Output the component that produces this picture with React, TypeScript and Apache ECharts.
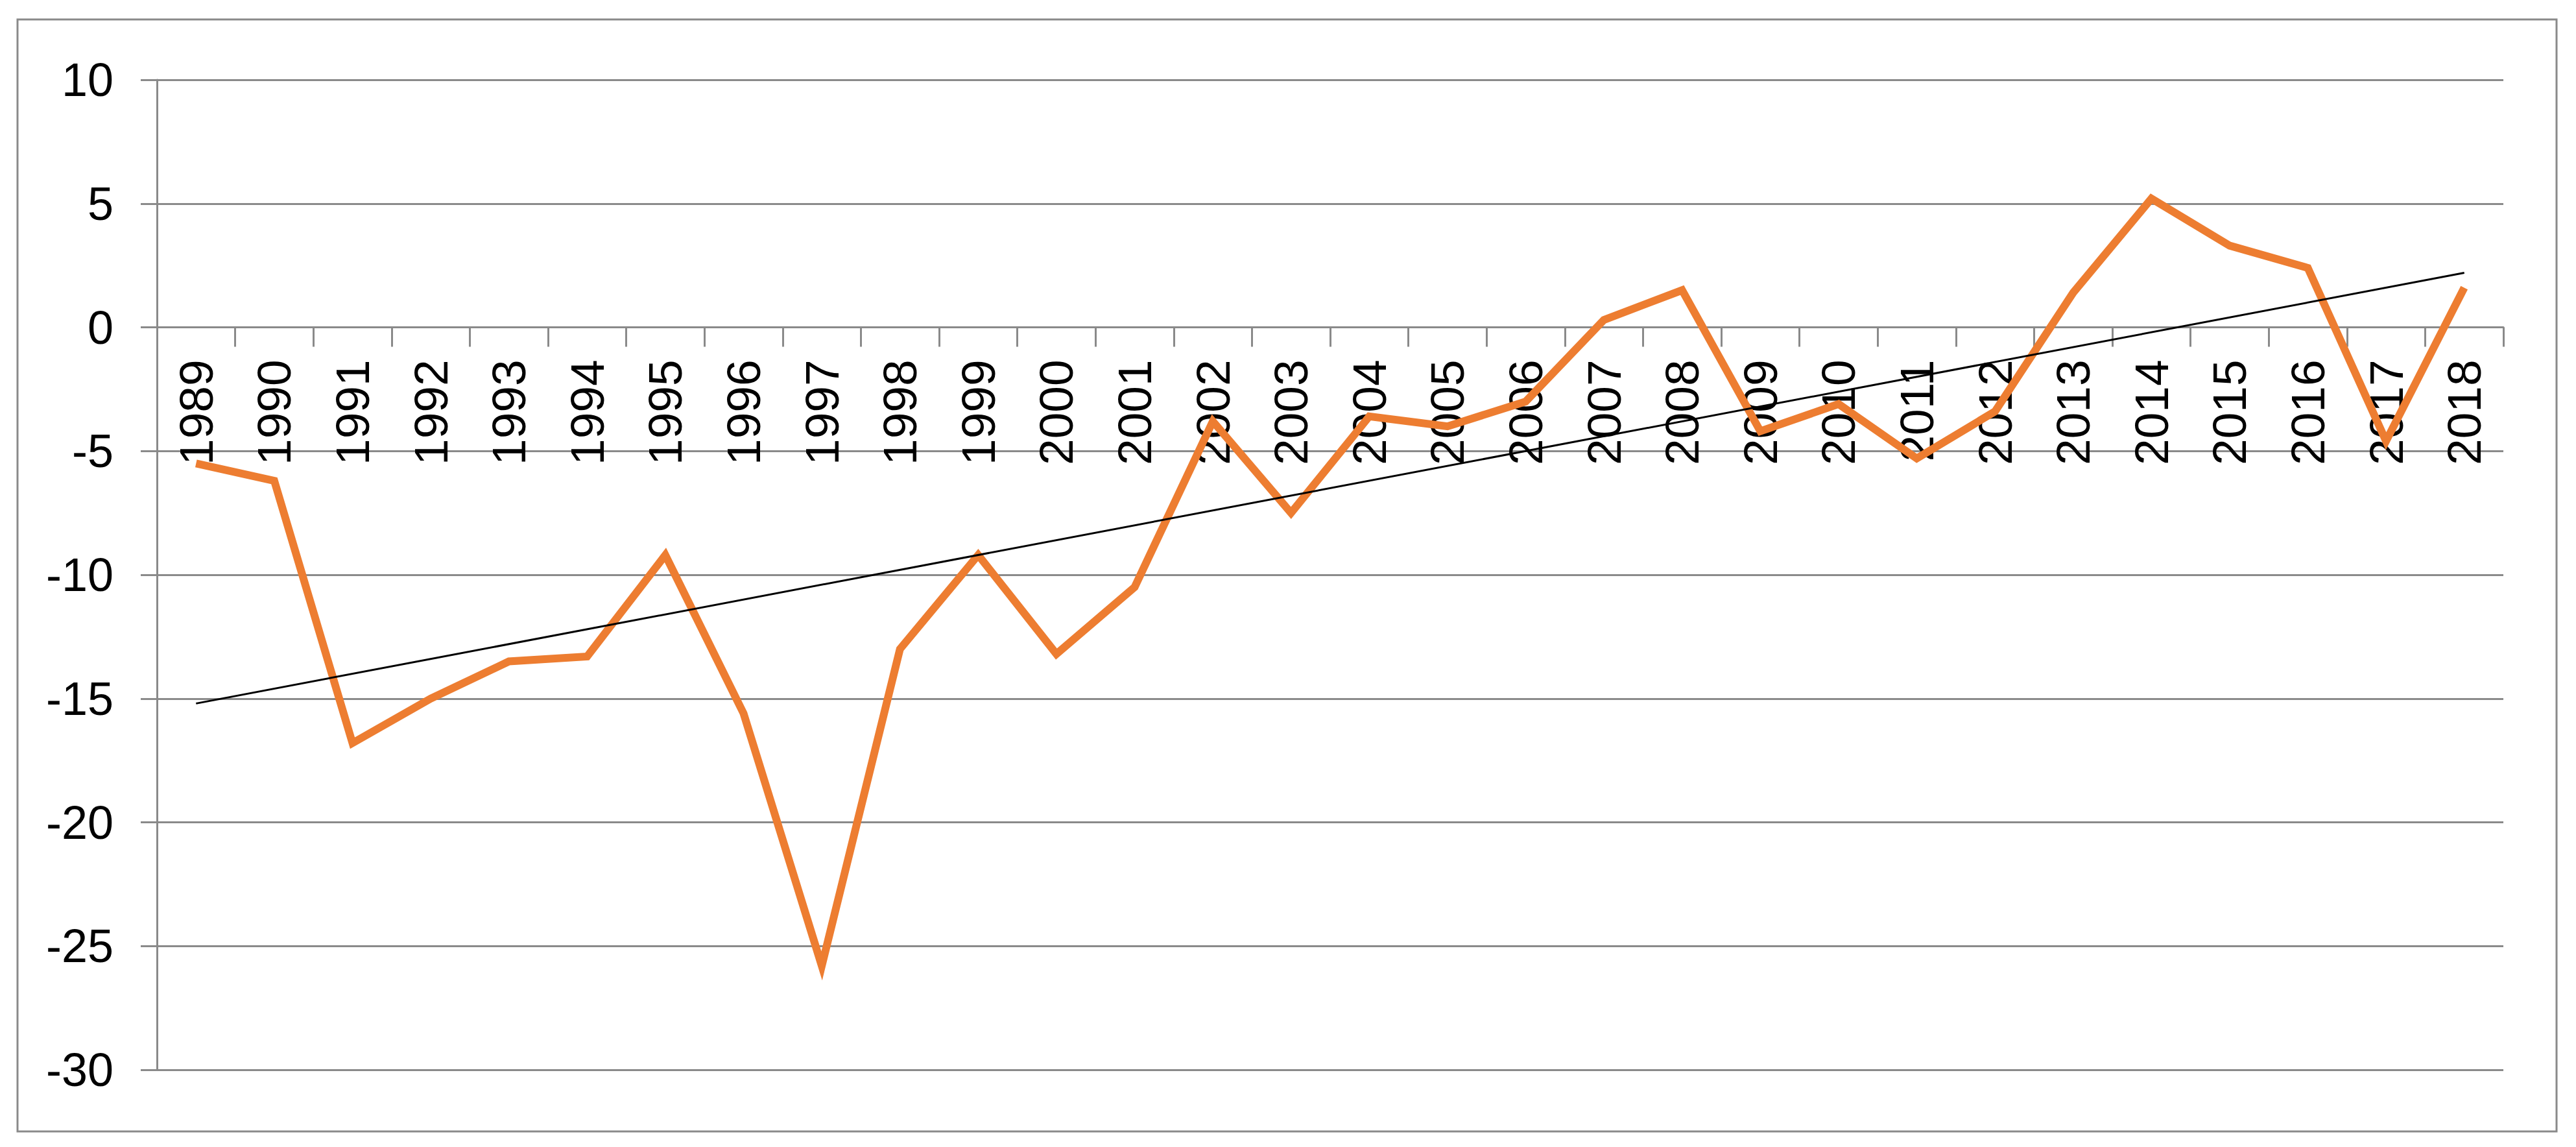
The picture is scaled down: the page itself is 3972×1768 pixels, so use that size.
import React, { useEffect, useRef } from "react";
import * as echarts from "echarts";

const years = [
  "1989", "1990", "1991", "1992", "1993", "1994", "1995", "1996", "1997", "1998",
  "1999", "2000", "2001", "2002", "2003", "2004", "2005", "2006", "2007", "2008",
  "2009", "2010", "2011", "2012", "2013", "2014", "2015", "2016", "2017", "2018",
];

const values = [
  -5.5, -6.2, -16.8, -15.0, -13.5, -13.3, -9.2, -15.6, -25.8, -13.0,
  -9.2, -13.2, -10.5, -3.8, -7.5, -3.6, -4.0, -3.0, 0.3, 1.5,
  -4.2, -3.1, -5.3, -3.4, 1.4, 5.2, 3.3, 2.4, -4.6, 1.6,
];

// trend line endpoints
const trendYears = ["1989", "2018"];
const trendValues = [-15.2, 2.2];

const yMin = -30;
const yMax = 10;
const yStep = 5;

const W = 3972;
const H = 1768;
const GRID_TOP = 123;
const GRID_BOTTOM = 119;

export default function App() {
  const ref = useRef<HTMLDivElement>(null);

  useEffect(() => {
    if (!ref.current) return;
    const chart = echarts.init(ref.current, null, { renderer: "svg" });
    const gray = "#8a8a8a";
    const gridH = H - GRID_TOP - GRID_BOTTOM;
    const zeroFromBottom = gridH * ((0 - yMin) / (yMax - yMin));
    chart.setOption({
      animation: false,
      backgroundColor: "#ffffff",
      grid: {
        left: 242,
        right: 112,
        top: GRID_TOP,
        bottom: GRID_BOTTOM,
        containLabel: false,
        outerBoundsMode: "none",
      },
      xAxis: {
        type: "category",
        data: years,
        boundaryGap: true,
        position: "bottom",
        offset: -zeroFromBottom,
        axisLine: { show: true, onZero: false, lineStyle: { color: gray, width: 3 } },
        axisTick: { show: true, interval: 0, length: 30, lineStyle: { color: gray, width: 3 } },
        axisLabel: {
          interval: 0,
          rotate: 90,
          margin: 50,
          fontSize: 73,
          fontFamily: "'Liberation Sans', Arial, sans-serif",
          color: "#000000",
        },
        splitLine: { show: false },
      },
      yAxis: {
        type: "value",
        min: yMin,
        max: yMax,
        interval: yStep,
        axisLine: { show: true, lineStyle: { color: gray, width: 3 } },
        axisTick: { show: true, length: 25, lineStyle: { color: gray, width: 3 } },
        axisLabel: {
          margin: 67,
          fontSize: 72,
          fontFamily: "'Liberation Sans Narrow', 'Liberation Sans', Arial, sans-serif",
          color: "#000000",
        },
        splitLine: { show: true, lineStyle: { color: gray, width: 3 } },
      },
      graphic: [
        {
          type: "rect",
          shape: { x: 27, y: 30, width: 3915, height: 1714 },
          style: { fill: "none", stroke: gray, lineWidth: 3 },
          silent: true,
        },
      ],
      series: [
        {
          type: "line",
          data: values,
          symbol: "none",
          lineStyle: { color: "#ED7D31", width: 12, join: "miter", miterLimit: 4 },
          itemStyle: { color: "#ED7D31" },
          z: 3,
        },
        {
          type: "line",
          data: trendYears.map((y, i) => [y, trendValues[i]]),
          symbol: "none",
          lineStyle: { color: "#000000", width: 3 },
          itemStyle: { color: "#000000" },
          z: 4,
        },
      ],
    });
    return () => chart.dispose();
  }, []);

  return (
    <div
      ref={ref}
      style={{ position: "fixed", left: 0, top: 0, width: W, height: H, background: "#fff" }}
    />
  );
}
